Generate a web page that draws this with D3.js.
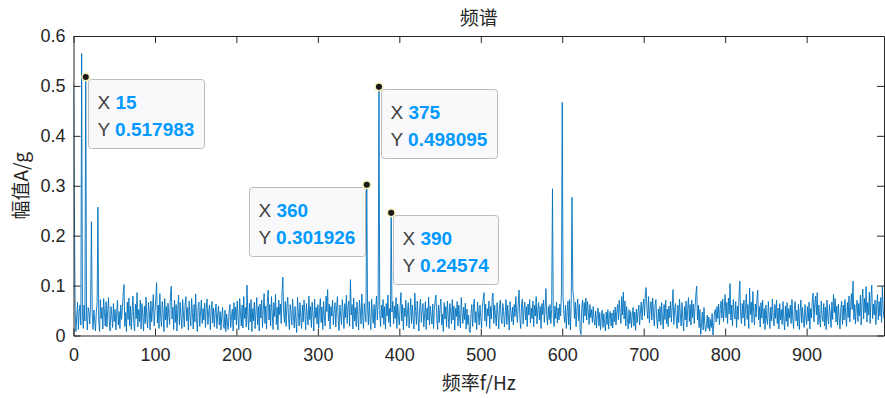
<!DOCTYPE html>
<html>
<head>
<meta charset="utf-8">
<script src="https://cdn.jsdelivr.net/npm/d3@7/dist/d3.min.js"></script>
<style>
  html, body { margin: 0; padding: 0; background: #fff; }
  svg { display: block; }
  text { font-family: "Liberation Sans", Arial, Helvetica, sans-serif; }
  .cjk { font-family: "Noto Sans CJK SC", "Liberation Sans", sans-serif; }
</style>
</head>
<body>
<svg id="chart" width="885" height="398"></svg>
<script>
// ---------------- DATA ----------------
const titleText = "频谱";
const xLabelText = "频率f/Hz";
const yLabelText = "幅值A/g";
const xTicks = [0, 100, 200, 300, 400, 500, 600, 700, 800, 900];
const yTicks = [0, 0.1, 0.2, 0.3, 0.4, 0.5, 0.6];
const xDomain = [0, 995];
const yDomain = [0, 0.6];
const freqStep = 1; // Hz per sample

// amplitude spectrum, one value per Hz, 0 .. 995 Hz
const amplitude = [
0.505,0.27,0.052,0.008,0.038,0.066,0.012,0.047,0.061,0.021,0.565,0.043,0.014,0.061,0.029,0.518,0.041,0.011,0.056,0.047,
0.023,0.062,0.228,0.044,0.012,0.051,0.031,0.009,0.047,0.066,0.257,0.028,0.008,0.072,0.034,0.056,0.013,0.074,0.046,0.019,
0.068,0.017,0.049,0.076,0.025,0.009,0.058,0.041,0.016,0.064,0.028,0.052,0.011,0.045,0.071,0.021,0.048,0.014,0.061,0.032,
0.055,0.083,0.102,0.018,0.046,0.008,0.067,0.032,0.075,0.019,0.059,0.012,0.048,0.079,0.026,0.009,0.063,0.034,0.086,0.017,
0.052,0.028,0.071,0.013,0.064,0.041,0.009,0.059,0.024,0.077,0.036,0.015,0.066,0.049,0.011,0.069,0.027,0.055,0.082,0.019,
0.048,0.072,0.106,0.025,0.061,0.014,0.084,0.039,0.018,0.068,0.047,0.008,0.074,0.031,0.058,0.016,0.065,0.041,0.022,0.079,
0.099,0.033,0.057,0.012,0.071,0.026,0.062,0.009,0.053,0.081,0.021,0.066,0.038,0.014,0.072,0.043,0.017,0.063,0.078,0.029,
0.056,0.011,0.069,0.038,0.019,0.074,0.046,0.013,0.062,0.027,0.083,0.036,0.008,0.058,0.067,0.018,0.049,0.071,0.024,0.054,
0.031,0.065,0.016,0.057,0.073,0.022,0.048,0.061,0.012,0.052,0.068,0.025,0.055,0.017,0.046,0.063,0.014,0.044,0.059,0.021,
0.048,0.011,0.039,0.056,0.018,0.014,0.051,0.008,0.043,0.025,0.012,0.047,0.062,0.016,0.038,0.053,0.009,0.066,0.031,0.057,
0.021,0.069,0.036,0.012,0.074,0.045,0.019,0.061,0.015,0.078,0.034,0.056,0.017,0.101,0.041,0.011,0.065,0.027,0.072,0.008,
0.054,0.029,0.067,0.014,0.049,0.076,0.021,0.058,0.009,0.063,0.035,0.071,0.016,0.052,0.084,0.024,0.059,0.013,0.069,0.091,
0.031,0.062,0.019,0.078,0.045,0.012,0.066,0.038,0.082,0.022,0.057,0.011,0.071,0.042,0.063,0.024,0.087,0.117,0.047,0.026,
0.068,0.018,0.059,0.077,0.034,0.012,0.062,0.045,0.021,0.073,0.039,0.015,0.058,0.031,0.006,0.076,0.046,0.019,0.066,0.036,
0.014,0.061,0.027,0.071,0.048,0.011,0.064,0.039,0.021,0.079,0.032,0.058,0.016,0.067,0.043,0.009,0.073,0.035,0.056,0.023,
0.062,0.015,0.051,0.074,0.026,0.057,0.012,0.068,0.038,0.019,0.079,0.048,0.092,0.029,0.063,0.013,0.058,0.039,0.071,0.021,
0.049,0.066,0.017,0.055,0.078,0.031,0.01,0.061,0.041,0.022,0.072,0.047,0.014,0.064,0.036,0.081,0.024,0.057,0.069,0.019,
0.112,0.041,0.062,0.013,0.075,0.029,0.056,0.018,0.067,0.042,0.011,0.071,0.052,0.023,0.083,0.038,0.014,0.064,0.045,0.027,
0.302,0.057,0.021,0.068,0.034,0.012,0.073,0.044,0.024,0.062,0.015,0.055,0.079,0.031,0.067,0.498,0.041,0.018,0.061,0.035,
0.072,0.022,0.058,0.013,0.064,0.039,0.081,0.026,0.054,0.017,0.246,0.047,0.068,0.023,0.059,0.034,0.076,0.014,0.063,0.038,
0.021,0.058,0.086,0.029,0.062,0.011,0.055,0.038,0.071,0.019,0.047,0.066,0.015,0.043,0.074,0.024,0.061,0.034,0.013,0.085,
0.048,0.022,0.069,0.035,0.009,0.058,0.073,0.026,0.051,0.064,0.017,0.041,0.068,0.012,0.055,0.031,0.077,0.021,0.059,0.039,
0.023,0.063,0.014,0.052,0.071,0.081,0.034,0.012,0.061,0.026,0.056,0.073,0.021,0.043,0.008,0.066,0.033,0.058,0.017,0.069,
0.039,0.014,0.064,0.047,0.023,0.072,0.031,0.059,0.011,0.054,0.038,0.068,0.019,0.061,0.035,0.015,0.076,0.044,0.024,0.057,
0.032,0.065,0.013,0.053,0.022,0.041,0.009,0.006,0.044,0.062,0.018,0.056,0.073,0.026,0.048,0.012,0.067,0.045,0.021,0.061,
0.036,0.015,0.057,0.074,0.086,0.029,0.063,0.018,0.054,0.039,0.069,0.014,0.058,0.033,0.076,0.085,0.024,0.061,0.041,0.019,
0.066,0.045,0.013,0.059,0.071,0.032,0.024,0.064,0.048,0.017,0.043,0.072,0.022,0.061,0.037,0.011,0.068,0.046,0.028,0.057,
0.021,0.062,0.038,0.078,0.044,0.026,0.065,0.091,0.034,0.014,0.059,0.073,0.023,0.052,0.067,0.031,0.058,0.018,0.063,0.041,
0.072,0.025,0.055,0.034,0.069,0.018,0.061,0.039,0.078,0.023,0.053,0.066,0.031,0.058,0.014,0.064,0.042,0.071,0.026,0.056,
0.094,0.036,0.021,0.058,0.032,0.062,0.024,0.052,0.294,0.038,0.018,0.059,0.034,0.067,0.025,0.055,0.031,0.063,0.039,0.085,
0.467,0.078,0.043,0.026,0.061,0.014,0.048,0.069,0.021,0.072,0.011,0.058,0.277,0.092,0.076,0.034,0.067,0.018,0.053,0.073,
0.029,0.062,0.009,0.002,0.056,0.071,0.025,0.066,0.039,0.075,0.031,0.068,0.047,0.022,0.062,0.036,0.052,0.026,0.058,0.033,
0.021,0.049,0.015,0.042,0.055,0.019,0.046,0.011,0.038,0.051,0.016,0.044,0.024,0.009,0.047,0.022,0.052,0.013,0.041,0.048,
0.019,0.045,0.015,0.051,0.027,0.057,0.021,0.049,0.062,0.031,0.071,0.046,0.024,0.078,0.041,0.087,0.033,0.069,0.019,0.058,
0.034,0.013,0.052,0.024,0.048,0.016,0.041,0.056,0.019,0.047,0.01,0.053,0.026,0.045,0.061,0.021,0.049,0.067,0.031,0.058,
0.073,0.039,0.084,0.096,0.052,0.034,0.078,0.025,0.055,0.068,0.031,0.075,0.046,0.019,0.061,0.072,0.033,0.014,0.053,0.028,
0.058,0.021,0.066,0.037,0.013,0.062,0.032,0.071,0.024,0.053,0.018,0.059,0.036,0.068,0.027,0.056,0.092,0.022,0.052,0.064,
0.033,0.014,0.061,0.026,0.073,0.041,0.019,0.066,0.035,0.009,0.058,0.031,0.069,0.017,0.054,0.076,0.028,0.062,0.021,0.071,
0.036,0.063,0.024,0.055,0.082,0.099,0.031,0.061,0.016,0.052,0.002,0.026,0.047,0.011,0.056,0.022,0.008,0.019,0.041,0.014,
0.037,0.009,0.032,0.016,0.044,0.001,0.021,0.048,0.052,0.027,0.058,0.034,0.063,0.022,0.054,0.069,0.035,0.073,0.028,0.058,
0.082,0.036,0.066,0.024,0.075,0.043,0.104,0.031,0.061,0.019,0.072,0.045,0.033,0.068,0.016,0.059,0.032,0.077,0.109,0.041,
0.024,0.064,0.035,0.071,0.019,0.058,0.083,0.032,0.062,0.014,0.095,0.042,0.067,0.026,0.088,0.046,0.021,0.063,0.037,0.074,
0.091,0.031,0.058,0.017,0.066,0.035,0.071,0.024,0.054,0.012,0.061,0.033,0.022,0.068,0.041,0.014,0.057,0.029,0.073,0.036,
0.019,0.062,0.034,0.071,0.024,0.055,0.013,0.064,0.031,0.052,0.022,0.068,0.033,0.011,0.059,0.028,0.066,0.018,0.054,0.035,
0.061,0.024,0.072,0.033,0.014,0.057,0.068,0.029,0.051,0.019,0.063,0.012,0.048,0.071,0.025,0.056,0.031,0.016,0.062,0.037,
0.022,0.058,0.029,0.067,0.013,0.054,0.035,0.072,0.085,0.027,0.063,0.079,0.041,0.086,0.022,0.061,0.033,0.017,0.069,0.039,
0.028,0.064,0.019,0.057,0.012,0.071,0.036,0.023,0.062,0.043,0.016,0.067,0.032,0.082,0.046,0.074,0.027,0.059,0.021,0.063,
0.036,0.013,0.054,0.069,0.022,0.061,0.031,0.072,0.041,0.018,0.066,0.036,0.079,0.027,0.058,0.084,0.052,0.109,0.032,0.062,
0.023,0.057,0.071,0.028,0.064,0.039,0.081,0.021,0.068,0.093,0.033,0.074,0.046,0.098,0.027,0.066,0.041,0.087,0.024,0.076,
0.101,0.034,0.063,0.041,0.071,0.022,0.059,0.082,0.031,0.068,0.039,0.076,0.026,0.098,0.052,0.034
];

// data tips
const tipX = [15, 375, 360, 390];
const tipY = [0.517983, 0.498095, 0.301926, 0.24574];
const tipYLabel = ["0.517983", "0.498095", "0.301926", "0.24574"];

// ---------------- DRAW ----------------
const svg = d3.select("#chart");
const plotLeft = 73.5, plotRight = 884, plotTop = 36, plotBottom = 335.5;
const axisColor = "#262626";

const x = d3.scaleLinear().domain(xDomain).range([plotLeft, plotRight]);
const y = d3.scaleLinear().domain(yDomain).range([plotBottom, plotTop]);

svg.append("defs").append("clipPath").attr("id", "plotclip")
  .append("rect").attr("x", plotLeft).attr("y", plotTop)
  .attr("width", plotRight - plotLeft).attr("height", plotBottom - plotTop);

// line
const pts = amplitude.map((v, i) => [i * freqStep, v]);
svg.append("path")
  .datum(pts)
  .attr("clip-path", "url(#plotclip)")
  .attr("fill", "none")
  .attr("stroke", "#0072BD")
  .attr("stroke-width", 0.9)
  .attr("stroke-linejoin", "round")
  .attr("d", d3.line().x(d => x(d[0])).y(d => y(d[1])));

// axes
function styleAxis(g) {
  g.selectAll(".domain").attr("stroke", axisColor).attr("stroke-width", 1);
  g.selectAll(".tick line").attr("stroke", axisColor).attr("stroke-width", 1);
  g.selectAll(".tick text").attr("fill", axisColor).style("font-size", "18px")
    .style("font-family", '"Liberation Sans", Arial, sans-serif');
}
const tickLen = 7;
const gB = svg.append("g").attr("transform", `translate(0,${plotBottom})`)
  .call(d3.axisBottom(x).tickValues(xTicks).tickSizeInner(-tickLen).tickSizeOuter(0).tickPadding(13)
    .tickFormat(d3.format("d")));
styleAxis(gB);
const gT = svg.append("g").attr("transform", `translate(0,${plotTop})`)
  .call(d3.axisTop(x).tickValues(xTicks).tickSizeInner(-tickLen).tickSizeOuter(0).tickFormat(""));
styleAxis(gT);
const gL = svg.append("g").attr("transform", `translate(${plotLeft},0)`)
  .call(d3.axisLeft(y).tickValues(yTicks).tickSizeInner(-tickLen).tickSizeOuter(0).tickPadding(8)
    .tickFormat(d => d === 0 ? "0" : d3.format(".1f")(d)));
styleAxis(gL);
const gR = svg.append("g").attr("transform", `translate(${plotRight},0)`)
  .call(d3.axisRight(y).tickValues(yTicks).tickSizeInner(-tickLen).tickSizeOuter(0).tickFormat(""));
styleAxis(gR);

// title & labels
svg.append("text").attr("class", "cjk").attr("x", (plotLeft + plotRight) / 2).attr("y", 25)
  .attr("text-anchor", "middle").attr("fill", axisColor).style("font-size", "19px").text(titleText);
svg.append("text").attr("class", "cjk").attr("x", (plotLeft + plotRight) / 2).attr("y", 390)
  .attr("text-anchor", "middle").attr("fill", axisColor).style("font-size", "19px").text(xLabelText);
svg.append("text").attr("class", "cjk")
  .attr("transform", `translate(28,${(plotTop + plotBottom) / 2}) rotate(-90)`)
  .attr("text-anchor", "middle").attr("fill", axisColor).style("font-size", "19px").text(yLabelText);

// data tips
const tipSide = ["right", "right", "left", "right"];
const tipG = svg.append("g");
tipX.forEach((fx, i) => {
  const px = x(fx), py = y(tipY[i]);
  const g = tipG.append("g");
  const rect = g.append("rect").attr("rx", 3).attr("ry", 3)
    .attr("fill", "#f9f9fc").attr("stroke", "#bcbcbc").attr("stroke-width", 1);
  const t1 = g.append("text").style("font-size", "19px");
  t1.append("tspan").attr("fill", "#404040").text("X ");
  t1.append("tspan").attr("fill", "#0099ff").attr("font-weight", "bold").text(String(fx));
  const t2 = g.append("text").style("font-size", "19px");
  t2.append("tspan").attr("fill", "#404040").text("Y ");
  t2.append("tspan").attr("fill", "#0099ff").attr("font-weight", "bold").text(tipYLabel[i]);
  const tw = Math.max(t1.node().getComputedTextLength(), t2.node().getComputedTextLength());
  const bw = Math.round(tw + 19), bh = 69;
  const bx = tipSide[i] === "right" ? Math.round(px + 2) + 0.5 : Math.round(px - 2 - bw) + 0.5;
  const by = Math.round(py + 2) + 0.5;
  rect.attr("x", bx).attr("y", by).attr("width", bw).attr("height", bh);
  t1.attr("x", bx + 9).attr("y", by + 29);
  t2.attr("x", bx + 9).attr("y", by + 56);
  svg.append("circle").attr("cx", px).attr("cy", py).attr("r", 3.8)
    .attr("fill", "#1a1a1a").attr("stroke", "#f5f0b4").attr("stroke-width", 1.5);
});
console.log("samples", amplitude.length, amplitude[15], amplitude[375], amplitude[360], amplitude[390], amplitude[600]);
</script>
</body>
</html>
